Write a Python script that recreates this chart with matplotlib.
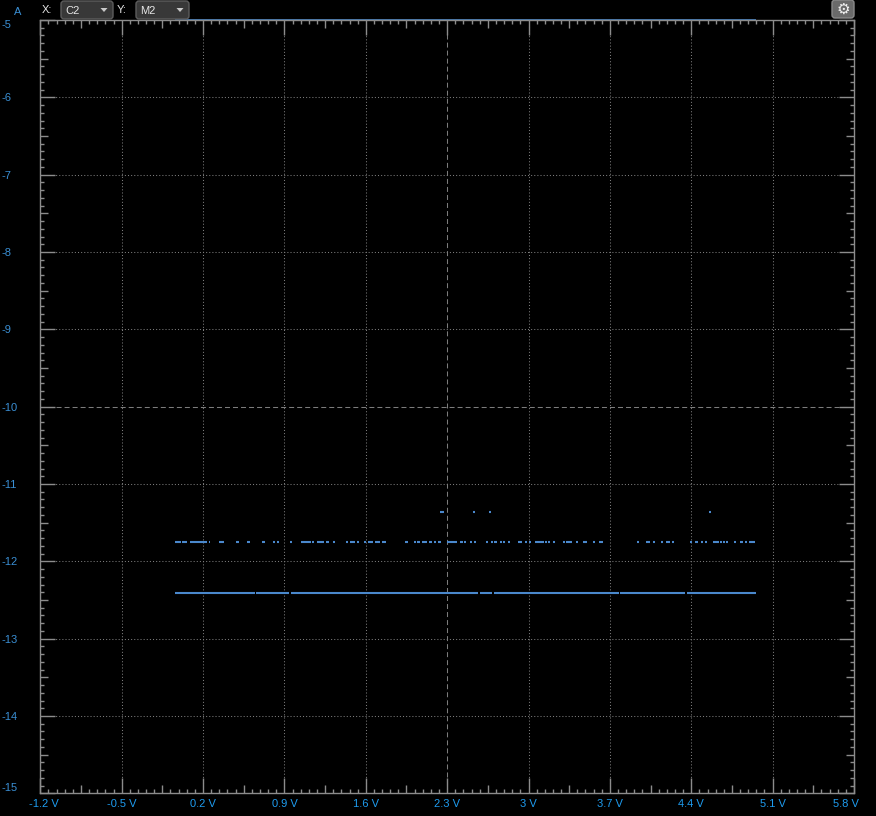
import matplotlib
matplotlib.use('Agg')
import matplotlib.pyplot as plt
from matplotlib.transforms import blended_transform_factory, ScaledTranslation, IdentityTransform
from matplotlib.patches import FancyBboxPatch, Polygon
import numpy as np

# XY plot: C2 (volts) vs M2 (amps)
x_ticks = [-1.2, -0.5, 0.2, 0.9, 1.6, 2.3, 3.0, 3.7, 4.4, 5.1, 5.8]
x_labels = ['-1.2 V', '-0.5 V', '0.2 V', '0.9 V', '1.6 V', '2.3 V', '3 V',
            '3.7 V', '4.4 V', '5.1 V', '5.8 V']
y_ticks = [-5, -6, -7, -8, -9, -10, -11, -12, -13, -14, -15]
y_labels = ['-5', '-6', '-7', '-8', '-9', '-10', '-11', '-12', '-13', '-14', '-15']

# lower trace, M2 ~ -12.41 A (segments start / end in V)
low_level = -12.41
low_start = [-0.041, 0.656, 0.957, 2.583, 2.703, 3.787, 4.364]
low_end = [0.647, 0.940, 2.566, 2.686, 3.779, 4.346, 4.957]

# upper trace, M2 ~ -11.75 A, broken into short dashes
up_level = -11.75
up_start = [-0.041, 0.019, 0.088, 0.251, 0.337, 0.484, 0.578, 0.707, 0.802, 0.836,
            0.948, 1.043, 1.137, 1.180, 1.258, 1.318, 1.430, 1.464, 1.525, 1.585,
            1.619, 1.679, 1.740, 1.937, 2.015, 2.041, 2.084, 2.144, 2.187, 2.221,
            2.299, 2.411, 2.445, 2.497, 2.531, 2.634, 2.677, 2.703, 2.755, 2.781,
            2.824, 2.910, 2.970, 3.004, 3.056, 3.142, 3.168, 3.211, 3.297, 3.323,
            3.409, 3.469, 3.555, 3.607, 3.933, 4.011, 4.071, 4.140, 4.183, 4.235,
            4.389, 4.432, 4.484, 4.518, 4.587, 4.647, 4.673, 4.699, 4.768, 4.820,
            4.862, 4.897]
up_end = [0.010, 0.062, 0.234, 0.260, 0.380, 0.509, 0.604, 0.733, 0.819, 0.854,
          0.965, 1.129, 1.155, 1.241, 1.284, 1.335, 1.447, 1.507, 1.542, 1.602,
          1.662, 1.722, 1.774, 1.963, 2.032, 2.067, 2.127, 2.170, 2.204, 2.247,
          2.385, 2.437, 2.462, 2.514, 2.548, 2.652, 2.695, 2.729, 2.772, 2.798,
          2.841, 2.944, 2.987, 3.022, 3.133, 3.159, 3.185, 3.228, 3.314, 3.374,
          3.426, 3.503, 3.572, 3.641, 3.951, 4.045, 4.088, 4.157, 4.217, 4.252,
          4.407, 4.458, 4.501, 4.536, 4.639, 4.665, 4.690, 4.716, 4.785, 4.845,
          4.880, 4.949]

# a few stray samples, M2 ~ -11.36 A
odd_level = -11.36
odd_start = [2.237, 2.524, 2.661, 4.553]
odd_end = [2.271, 2.541, 2.677, 4.570]

trace_col = '#4a88cc'
grid_col = '#7c7c7c'
frame_col = '#8c8c8c'
xlab_col = '#1e9cf0'
ylab_col = '#3a8fd4'

plt.rcParams['font.family'] = ['Liberation Sans', 'DejaVu Sans']

W, H = 876, 816
fig = plt.figure(figsize=(W / 100, H / 100), dpi=100, facecolor='black')
left, right, top, bottom = 40.3, 854.0, 20.0, 793.3
ax = fig.add_axes([left / W, 1 - bottom / H, (right - left) / W, (bottom - top) / H])
ax.set_facecolor('black')
ax.set_xlim(-1.2, 5.8)
ax.set_ylim(-15, -5)
ax_w, ax_h = right - left, bottom - top

# grid
for v in x_ticks[1:-1]:
    if v == 2.3:
        ax.axvline(v, color=grid_col, lw=0.75, ls=(0, (4.8, 2.9)))
    else:
        ax.axvline(v, color=grid_col, lw=0.75, ls=(0, (1, 2)))
for v in y_ticks[1:-1]:
    if v == -10:
        ax.axhline(v, color=grid_col, lw=0.75, ls=(0, (4.8, 2.9)))
    else:
        ax.axhline(v, color=grid_col, lw=0.75, ls=(0, (1, 2)))

# traces
ax.hlines([low_level] * len(low_start), low_start, low_end, color=trace_col, lw=1.5, capstyle='butt')
ax.hlines([up_level] * len(up_start), up_start, up_end, color=trace_col, lw=1.5, capstyle='butt')
ax.hlines([odd_level] * len(odd_start), odd_start, odd_end, color=trace_col, lw=1.5, capstyle='butt')

# frame
for s in ax.spines.values():
    s.set_color(frame_col)
    s.set_linewidth(1.0)

# inward ticks, three lengths
bx = blended_transform_factory(ax.transData, ax.transAxes)
by = blended_transform_factory(ax.transAxes, ax.transData)
xt = np.linspace(-1.2, 5.8, 101)
yt = np.linspace(-15, -5, 101)
for k in range(101):
    L = 15 if k % 10 == 0 else (8 if k % 5 == 0 else 4)
    ax.vlines(xt[k], 0, L / ax_h, transform=bx, color=frame_col, lw=1, clip_on=False)
    ax.vlines(xt[k], 1 - L / ax_h, 1, transform=bx, color=frame_col, lw=1, clip_on=False)
    ax.hlines(yt[k], 0, L / ax_w, transform=by, color=frame_col, lw=1, clip_on=False)
    ax.hlines(yt[k], 1 - L / ax_w, 1, transform=by, color=frame_col, lw=1, clip_on=False)

# x extent of the data marked on the top edge
ax.hlines(1, min(low_start), max(up_end + low_end), transform=bx, color=trace_col, lw=1.2, clip_on=False)

# tick labels
ax.set_xticks(x_ticks, x_labels)
ax.set_yticks(y_ticks, y_labels)
ax.tick_params(axis='x', length=0, pad=4, labelsize=8, labelcolor=xlab_col)
ax.tick_params(axis='y', length=0, pad=28, labelsize=8, labelcolor=ylab_col)
for lab in ax.get_yticklabels():
    lab.set_horizontalalignment('left')
ylabs = ax.get_yticklabels()
ylabs[0].set_verticalalignment('top')
ylabs[-1].set_verticalalignment('bottom')
xlabs = ax.get_xticklabels()
xlabs[0].set_transform(xlabs[0].get_transform() + ScaledTranslation(4 / 100, 0, fig.dpi_scale_trans))
xlabs[-1].set_transform(xlabs[-1].get_transform() + ScaledTranslation(-8 / 100, 0, fig.dpi_scale_trans))

fig.text(18 / W, 1 - 12 / H, 'A', color=ylab_col, fontsize=8, ha='center', va='center')

# toolbar
def box(x0, y0, x1, y1, fc, ec):
    p = FancyBboxPatch((x0, H - y1), x1 - x0, y1 - y0,
                       boxstyle='round,pad=0,rounding_size=3',
                       fc=fc, ec=ec, lw=1, transform=IdentityTransform())
    fig.add_artist(p)

def arrow(cx, cy):
    pts = [(cx - 3.5, H - cy + 2), (cx + 3.5, H - cy + 2), (cx, H - cy - 2)]
    fig.add_artist(Polygon(pts, closed=True, fc='#c8c8c8', ec='none', transform=IdentityTransform()))

fig.text(42 / W, 1 - 10 / H, 'X:', color='#e6e6e6', fontsize=8, ha='left', va='center')
box(61, 1, 113, 19, '#383838', '#5c5c5c')
fig.text(65 / W, 1 - 10.5 / H, 'C2', color='#e6e6e6', fontsize=8, ha='left', va='center')
arrow(104, 10)
fig.text(117 / W, 1 - 10 / H, 'Y:', color='#e6e6e6', fontsize=8, ha='left', va='center')
box(136, 1, 189, 19, '#383838', '#5c5c5c')
fig.text(140 / W, 1 - 10.5 / H, 'M2', color='#e6e6e6', fontsize=8, ha='left', va='center')
arrow(180, 10)

box(832, 0, 854, 18, '#6a6a6a', '#8a8a8a')
fig.text(843 / W, 1 - 9 / H, '\u2699', color='#f0f0f0', fontsize=11, ha='center', va='center',
         family='DejaVu Sans')

fig.savefig('out.png', dpi=100, facecolor='black')
